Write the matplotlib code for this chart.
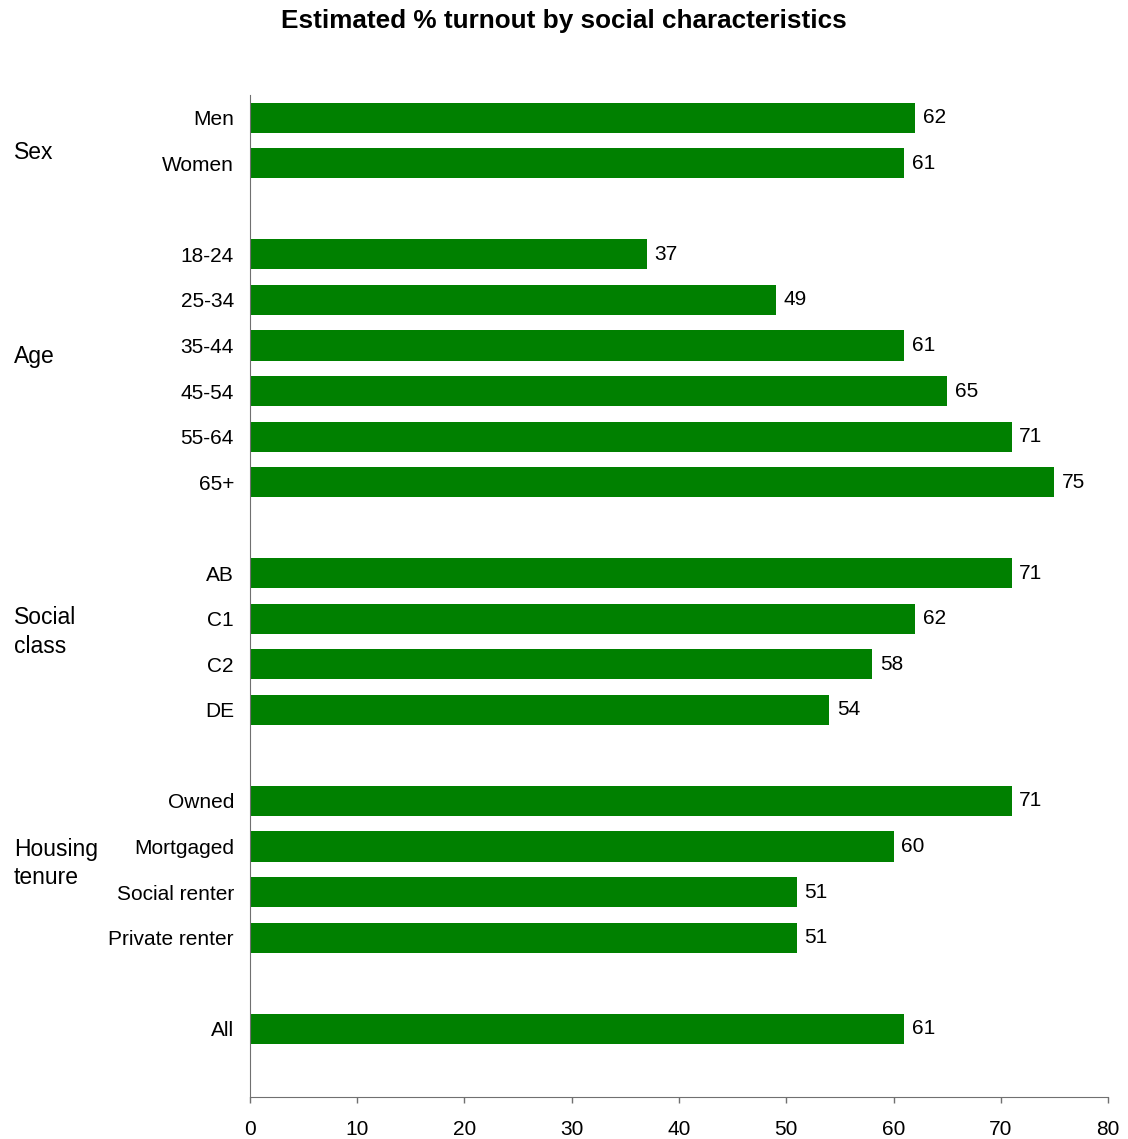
import matplotlib.pyplot as plt

plt.rcParams['font.family'] = ['Liberation Sans', 'DejaVu Sans']

# categories, top to bottom; None marks the gap between groups
categories = ['Men', 'Women', None,
              '18-24', '25-34', '35-44', '45-54', '55-64', '65+', None,
              'AB', 'C1', 'C2', 'DE', None,
              'Owned', 'Mortgaged', 'Social renter', 'Private renter', None,
              'All']
turnout = [62, 61, None,
           37, 49, 61, 65, 71, 75, None,
           71, 62, 58, 54, None,
           71, 60, 51, 51, None,
           61]
groups = ['Sex', 'Age', 'Social\nclass', 'Housing\ntenure']
group_pos = [0.77, 5.24, 11.29, 16.38]
x_ticks = [0, 10, 20, 30, 40, 50, 60, 70, 80]

fig = plt.figure(figsize=(11.28, 11.39), dpi=100)
ax = fig.add_axes([0.2216, 0.0369, 0.9823 - 0.2216, 0.9166 - 0.0369])

ys, vals, labels = [], [], []
for i, (c, v) in enumerate(zip(categories, turnout)):
    if c is None:
        continue
    ys.append(i)
    vals.append(v)
    labels.append(c)

ax.barh(ys, vals, height=0.66, color='#008000')
for y, v in zip(ys, vals):
    ax.annotate(str(v), (v, y), xytext=(5.5, 0), textcoords='offset points',
                va='center', ha='left', fontsize=15)

ax.set_ylim(21.5, -0.5)
ax.set_xlim(0, 80)
ax.set_yticks(ys)
ax.set_yticklabels(labels, fontsize=15)
ax.tick_params(axis='y', length=0, pad=11.5)
ax.set_xticks(x_ticks)
ax.tick_params(axis='x', length=4, width=1, color='#707070', labelsize=15, pad=12.5)

for s in ['top', 'right']:
    ax.spines[s].set_visible(False)
for s in ['left', 'bottom']:
    ax.spines[s].set_color('#707070')

for g, p in zip(groups, group_pos):
    ax.text(-0.2216 / (0.9823 - 0.2216) + 14 / 858, p, g, transform=ax.get_yaxis_transform(),
            ha='left', va='center', fontsize=16.5, linespacing=1.3)

fig.text(0.5, 0.982, 'Estimated % turnout by social characteristics',
         ha='center', va='center', fontsize=18.8, fontweight='bold')

fig.savefig('out.png', dpi=100)
